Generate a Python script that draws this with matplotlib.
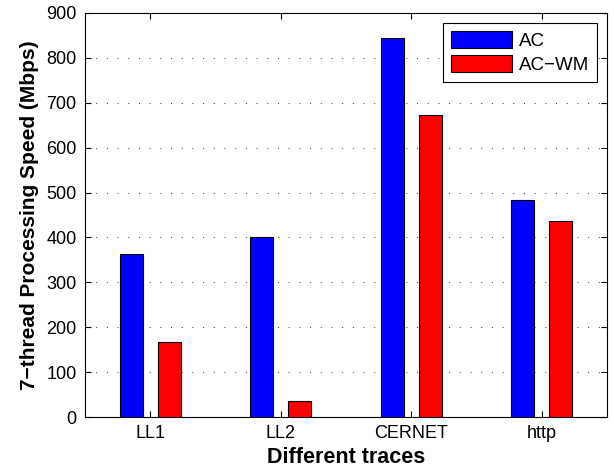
import matplotlib
matplotlib.use("Agg")
import matplotlib.pyplot as plt
import numpy as np

plt.rcParams['font.family'] = ['Liberation Sans', 'DejaVu Sans']

categories = ["LL1", "LL2", "CERNET", "http"]
ac = [363, 402, 844, 484]
ac_wm = [167, 35, 673, 437]
yticks = [0, 100, 200, 300, 400, 500, 600, 700, 800, 900]

fig = plt.figure(figsize=(6.14, 4.71), dpi=100)
ax = fig.add_axes([0.1384, 0.1146, 0.8502, 0.8578])

x = np.arange(1, len(categories) + 1)
w = 0.175
off = 0.145
ax.bar(x - off, ac, width=w, color='#0000ff', edgecolor='black', linewidth=0.8, label='AC', zorder=3)
ax.bar(x + off, ac_wm, width=w, color='#ff0000', edgecolor='black', linewidth=0.8, label='AC\u2212WM', zorder=3)

ax.set_xlim(0.5, 4.5)
ax.set_ylim(0, 900)
ax.set_xticks(x)
ax.set_xticklabels(categories, fontsize=13)
ax.set_yticks(yticks)
ax.set_yticklabels([str(v) for v in yticks], fontsize=13)
ax.yaxis.grid(True, linestyle=(0, (1, 10)), color='#333333', linewidth=0.7, zorder=0)
ax.set_axisbelow(True)
ax.tick_params(direction='in', top=True, right=True, length=4, width=0.8, pad=6)
for s in ax.spines.values():
    s.set_linewidth(0.8)

ax.set_xlabel("Different traces", fontsize=15.5, fontweight='bold', labelpad=3)
ax.set_ylabel("7\u2212thread Processing Speed (Mbps)", fontsize=15, fontweight='bold', labelpad=5)

leg = ax.legend(loc='upper right', fontsize=13.5, fancybox=False, framealpha=1,
                edgecolor='black', handlelength=3.3, handleheight=1.0,
                borderaxespad=0.55, labelspacing=0.3, handletextpad=0.35,
                borderpad=0.4)
leg.get_frame().set_linewidth(0.8)

fig.savefig("out.png", dpi=100)
